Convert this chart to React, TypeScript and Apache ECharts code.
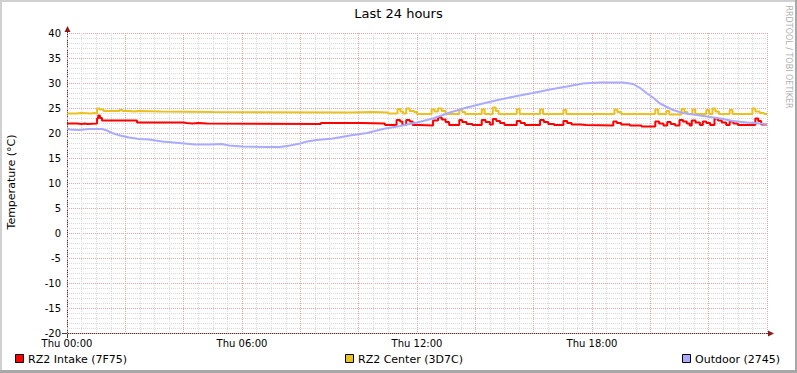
import React, { useEffect, useRef } from 'react';
import * as echarts from 'echarts';

// x values are hours since Thu 00:00, y values are °C
const hourTicks = [0, 6, 12, 18];
const tickLabels = ['Thu 00:00', 'Thu 06:00', 'Thu 12:00', 'Thu 18:00'];
const seriesNames = ['RZ2 Intake (7F75)', 'RZ2 Center (3D7C)', 'Outdoor (2745)'];
const titleText = 'Last 24 hours';
const yTitle = 'Temperature (°C)';
const watermark = 'RRDTOOL / TOBI OETIKER';

const intake: number[][] = [
  [0, 21.9], [0.35, 21.8], [0.5, 21.9], [0.6, 21.8], [0.7, 21.9],
  [1.03, 22.9], [1.07, 23.5], [1.13, 23.0], [1.2, 22.5], [2.4, 22.1], [4.0, 22.0], [4.1, 21.9],
  [4.3, 22.0], [4.5, 21.9], [4.8, 21.8], [8.7, 22.0], [10.1, 21.9], [10.9, 21.6],
  [11.3, 22.6], [11.42, 22.3], [11.5, 21.6],
  [11.63, 22.6], [11.75, 22.3], [11.85, 21.6],
  [12.1, 21.5],
  [12.55, 22.5], [12.72, 23.1], [12.85, 22.7], [12.98, 22.2], [13.1, 21.6],
  [13.45, 22.6], [13.55, 22.2], [13.7, 21.8], [13.9, 21.6],
  [14.22, 22.6], [14.35, 22.2], [14.5, 21.7],
  [14.6, 22.8], [14.72, 22.4], [14.85, 22.0], [15.0, 21.6],
  [15.42, 22.4], [15.55, 22.0], [15.7, 21.6],
  [16.22, 22.6], [16.35, 22.2], [16.5, 21.8], [16.7, 21.6],
  [17.02, 22.4], [17.15, 22.0], [17.3, 21.7], [17.6, 21.6], [17.8, 21.5],
  [18.73, 22.3], [18.85, 22.0], [19.0, 21.7], [19.3, 21.5],
  [19.7, 21.3],
  [20.17, 22.3], [20.3, 21.9], [20.45, 21.5],
  [20.58, 22.2], [20.7, 21.8], [20.85, 21.5],
  [21.0, 22.6], [21.12, 22.3], [21.25, 21.9], [21.35, 21.5],
  [21.42, 22.5], [21.55, 22.1], [21.7, 21.6],
  [21.8, 22.3], [21.92, 22.0], [22.05, 21.6],
  [22.2, 22.9], [22.32, 22.5], [22.45, 22.1], [22.6, 21.6],
  [22.72, 22.3], [22.85, 21.9], [23.0, 21.6],
  [23.6, 22.9], [23.7, 22.4], [23.8, 21.7], [24.0, 21.7],
];

const center: number[][] = [
  [0, 23.9], [0.3, 24.0], [0.5, 23.9], [0.8, 24.0], [0.95, 23.9],
  [1.03, 24.9], [1.12, 24.7], [1.25, 24.4], [1.8, 24.6], [1.9, 24.4], [2.1, 24.3], [2.3, 24.4],
  [2.45, 24.3], [3.2, 24.2], [5.0, 24.1], [9.5, 24.1], [9.7, 24.2], [10.5, 24.1], [11.0, 23.9],
  [11.33, 24.8], [11.43, 24.3], [11.52, 23.9],
  [11.63, 24.9], [11.75, 24.4], [11.9, 24.2], [12.0, 23.8],
  [12.5, 24.7], [12.6, 24.3], [12.72, 24.9], [12.85, 24.4], [12.98, 23.8],
  [13.45, 24.7], [13.55, 24.2], [13.65, 23.8],
  [14.22, 24.7], [14.32, 23.8],
  [14.6, 25.1], [14.7, 24.4], [14.8, 23.8],
  [15.42, 24.8], [15.52, 23.8],
  [16.22, 24.7], [16.32, 23.8],
  [17.02, 24.6], [17.12, 23.8],
  [18.77, 24.7], [18.87, 24.2], [19.0, 23.8],
  [20.17, 24.7], [20.27, 23.8],
  [20.55, 24.4], [20.65, 23.7],
  [21.07, 24.8], [21.17, 24.2], [21.27, 23.8],
  [21.44, 24.7], [21.54, 23.8],
  [21.92, 24.6], [22.02, 23.8],
  [22.13, 24.9], [22.23, 24.3], [22.35, 23.8],
  [22.72, 24.6], [22.82, 23.8],
  [23.5, 24.9], [23.6, 24.3], [23.75, 24.0], [23.9, 23.8], [24.0, 23.8],
];

const outdoor: number[][] = [
  [0, 20.9], [0.1, 20.7], [0.41, 20.6], [0.75, 20.8], [1.2, 20.8], [1.37, 20.5], [1.54, 20.0],
  [1.82, 19.5], [2.13, 19.1], [2.47, 18.8], [2.81, 18.7], [3.26, 18.3], [3.84, 18.0], [4.39, 17.7],
  [4.87, 17.7], [5.31, 17.8], [5.55, 17.5], [6.0, 17.3], [6.86, 17.2], [7.3, 17.2], [7.65, 17.5],
  [8.0, 17.9], [8.23, 18.3], [8.57, 18.6], [9.12, 18.9], [9.7, 19.5], [10.29, 20.0], [10.83, 20.8],
  [11.42, 21.4], [12.0, 22.1], [12.55, 22.9], [13.13, 24.1], [13.71, 25.1], [14.26, 25.9],
  [14.85, 26.7], [15.43, 27.4], [15.98, 28.0], [16.56, 28.7], [17.14, 29.3], [17.69, 29.9],
  [18.27, 30.1], [19.06, 30.1], [19.41, 29.8], [19.65, 29.0], [19.89, 27.9], [20.09, 27.1],
  [20.33, 25.9], [20.57, 25.2], [20.78, 24.6], [21.12, 24.0], [21.46, 23.7], [21.94, 23.3],
  [22.29, 23.0], [22.49, 22.8], [22.83, 22.4], [23.31, 22.1], [23.76, 21.9], [24.0, 21.8],
];

const colors = ['#ff0000', '#eac11e', '#aaaaff'];
const FONT = '"DejaVu Sans", sans-serif';

export default function App() {
  const ref = useRef<HTMLDivElement>(null);
  useEffect(() => {
    document.body.style.margin = '0';
    if (!ref.current) return;
    const chart = echarts.init(ref.current, undefined, { renderer: 'svg' });
    const legendBoxX = [15.5, 345.5, 682.5];
    const gridMinor = { show: true, lineStyle: { color: '#d9d9d9', type: [1, 1] as any, width: 1 } };
    const gridMajor = { show: true, lineStyle: { color: '#e2a8a8', type: [1, 1] as any, width: 1 } };
    const legendEls: any[] = [];
    seriesNames.forEach((n, i) => {
      legendEls.push({
        type: 'rect',
        shape: { x: legendBoxX[i], y: 354.5, width: 8, height: 8 },
        style: { fill: colors[i], stroke: '#000', lineWidth: 1 },
      });
      legendEls.push({
        type: 'text',
        x: legendBoxX[i] + 12.5,
        y: 359,
        style: { text: n, fill: '#000', fontSize: 11, fontFamily: FONT, align: 'left', verticalAlign: 'middle' },
      });
    });
    chart.setOption({
      animation: false,
      backgroundColor: '#ffffff',
      grid: { left: 67, top: 33, width: 700, height: 300 },
      xAxis: {
        type: 'value',
        min: 0,
        max: 24,
        interval: 2,
        axisLine: { show: false },
        axisTick: { show: false },
        axisLabel: {
          formatter: (v: number) => {
            const i = hourTicks.indexOf(v);
            return i >= 0 ? tickLabels[i] : '';
          },
          color: '#000',
          fontSize: 10,
          fontFamily: FONT,
          margin: 5,
        },
        splitLine: gridMajor,
        minorTick: { show: false, splitNumber: 4 },
        minorSplitLine: gridMinor,
      },
      yAxis: {
        type: 'value',
        min: -20,
        max: 40,
        interval: 5,
        axisLine: { show: false },
        axisTick: { show: false },
        axisLabel: { color: '#000', fontSize: 10, fontFamily: FONT, margin: 6 },
        splitLine: gridMajor,
        minorTick: { show: false, splitNumber: 5 },
        minorSplitLine: gridMinor,
      },
      series: [
        { name: seriesNames[0], type: 'line', data: intake, step: 'end', symbol: 'none', lineStyle: { color: colors[0], width: 2 }, itemStyle: { color: colors[0] } },
        { name: seriesNames[1], type: 'line', data: center, step: 'end', symbol: 'none', lineStyle: { color: colors[1], width: 2 }, itemStyle: { color: colors[1] } },
        { name: seriesNames[2], type: 'line', data: outdoor, symbol: 'none', lineStyle: { color: colors[2], width: 2 }, itemStyle: { color: colors[2] } },
      ],
      graphic: [
        { type: 'rect', shape: { x: 0, y: 0, width: 797, height: 2 }, style: { fill: '#d0d0d0' } },
        { type: 'rect', shape: { x: 0, y: 0, width: 2, height: 373 }, style: { fill: '#d0d0d0' } },
        { type: 'rect', shape: { x: 0, y: 370, width: 797, height: 3 }, style: { fill: '#a8a8a8' } },
        { type: 'rect', shape: { x: 795, y: 0, width: 2, height: 373 }, style: { fill: '#a8a8a8' } },
        { type: 'line', shape: { x1: 67.5, y1: 338, x2: 67.5, y2: 30 }, style: { stroke: '#4a3a3a', lineWidth: 1 } },
        { type: 'line', shape: { x1: 62, y1: 333.5, x2: 770, y2: 333.5 }, style: { stroke: '#4a3a3a', lineWidth: 1 } },
        { type: 'polygon', shape: { points: [[64.5, 32], [70.5, 32], [67.5, 26]] }, style: { fill: '#8b1a1a' } },
        { type: 'polygon', shape: { points: [[768, 330.5], [768, 336.5], [774, 333.5]] }, style: { fill: '#8b1a1a' } },
        { type: 'text', x: 398.5, y: 13.5, style: { text: titleText, fill: '#000', fontSize: 13, fontFamily: FONT, align: 'center', verticalAlign: 'middle' } },
        { type: 'text', x: 11, y: 182, rotation: Math.PI / 2, style: { text: yTitle, fill: '#000', fontSize: 11, fontFamily: FONT, align: 'center', verticalAlign: 'middle' } },
        { type: 'text', x: 788.5, y: 57, rotation: -Math.PI / 2, style: { text: watermark, fill: '#b0b0b0', fontSize: 8, fontFamily: FONT, align: 'center', verticalAlign: 'middle' } },
        ...legendEls,
      ],
    });
    return () => chart.dispose();
  }, []);
  return <div ref={ref} style={{ width: 797, height: 373 }} />;
}
